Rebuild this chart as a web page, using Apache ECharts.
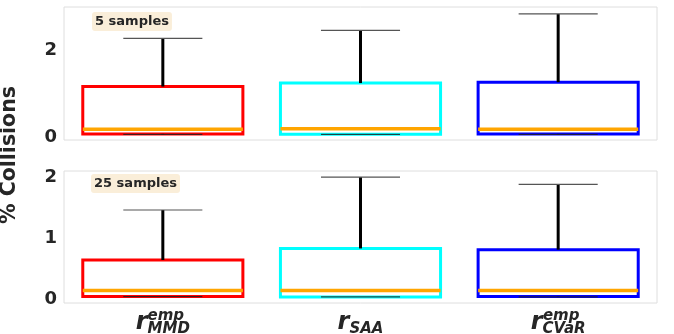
<!DOCTYPE html>
<html><head><meta charset="utf-8">
<script src="https://cdn.jsdelivr.net/npm/echarts@6/dist/echarts.min.js"></script>
<style>html,body{margin:0;padding:0;background:#fff}#c{width:674px;height:334px}</style>
</head><body><div id="c"></div>
<script>
const categories = ['MMD', 'SAA', 'CVaR'];
const subLabels = ['MMD', 'SAA', 'CVaR'];
const supLabels = ['emp', ' ', 'emp'];
const boxColors = ['#ff0000', '#00ffff', '#0000ff'];
const panelTitles = ['5 samples', '25 samples'];
const yTitle = '% Collisions';
// 5 samples panel
const min5 = [0.01, 0.01, 0.01];
const q1_5 = [0.02, 0.01, 0.02];
const med5 = [0.13, 0.14, 0.13];
const q3_5 = [1.11, 1.19, 1.21];
const max5 = [2.22, 2.40, 2.78];
// 25 samples panel
const min25 = [0.01, 0.005, 0.005];
const q1_25 = [0.01, 0.005, 0.01];
const med25 = [0.11, 0.11, 0.11];
const q3_25 = [0.61, 0.80, 0.78];
const max25 = [1.43, 1.97, 1.85];
const yTicks5 = [0, 2];
const yTicks25 = [0, 1, 2];

const TXT = '#262626';
const FONT = '"DejaVu Sans", sans-serif';

function rows(mn, q1, md, q3, mx) {
  return categories.map((c, i) => [i, mn[i], q1[i], md[i], q3[i], mx[i]]);
}

function renderBox(params, api) {
  const i = api.value(0);
  const vmin = api.value(1), q1 = api.value(2), med = api.value(3), q3 = api.value(4), vmax = api.value(5);
  const band = api.size([1, 0])[0];
  const cx = api.coord([i, q1])[0];
  const hw = band * 0.405, cw = band * 0.2;
  const y = v => api.coord([i, v])[1];
  const color = boxColors[i];
  return {
    type: 'group', children: [
      { type: 'rect', shape: { x: cx - hw, y: y(q3), width: 2 * hw, height: y(q1) - y(q3) }, style: { fill: '#fff', stroke: color, lineWidth: 3 } },
      { type: 'line', shape: { x1: cx, y1: y(q3), x2: cx, y2: y(vmax) }, style: { stroke: '#000', lineWidth: 3 } },
      { type: 'line', shape: { x1: cx, y1: y(q1), x2: cx, y2: y(vmin) }, style: { stroke: '#000', lineWidth: 3 } },
      { type: 'line', shape: { x1: cx - cw, y1: y(vmax), x2: cx + cw, y2: y(vmax) }, style: { stroke: '#555', lineWidth: 1.2 } },
      { type: 'line', shape: { x1: cx - cw, y1: y(vmin), x2: cx + cw, y2: y(vmin) }, style: { stroke: '#222', lineWidth: 1 } },
      { type: 'line', shape: { x1: cx - hw, y1: y(med), x2: cx + hw, y2: y(med) }, style: { stroke: '#ffa500', lineWidth: 3.5 } }
    ]
  };
}

const yAxisCommon = {
  type: 'value', splitLine: { show: false }, axisLine: { show: false }, axisTick: { show: false },
};
const yLabel = vals => ({
  customValues: vals, margin: 7,
  formatter: v => '{t|' + v + '}',
  rich: { t: { color: TXT, fontSize: 18, fontWeight: 'bold', fontFamily: FONT, lineHeight: 18, padding: [5, 0, 0, 0] } }
});

const chart = echarts.init(document.getElementById('c'), null, { renderer: 'canvas' });
chart.setOption({
  animation: false,
  backgroundColor: '#fff',
  grid: [
    { left: 64, top: 7, width: 593, height: 133, show: true, borderColor: '#dedede', borderWidth: 1, outerBoundsMode: 'none', containLabel: false },
    { left: 64, top: 171, width: 593, height: 132, show: true, borderColor: '#dedede', borderWidth: 1, outerBoundsMode: 'none', containLabel: false }
  ],
  xAxis: [
    { type: 'category', gridIndex: 0, data: categories, axisLine: { show: false }, axisTick: { show: false }, axisLabel: { show: false } },
    {
      type: 'category', gridIndex: 1, data: categories, axisLine: { show: false }, axisTick: { show: false },
      axisLabel: {
        margin: 5.5, color: TXT, fontFamily: FONT,
        formatter: (v, idx) => '{sp|' + supLabels[idx] + '}\n{r|r}{sb|' + subLabels[idx] + '}',
        rich: {
          sp: { fontSize: 15, fontWeight: 'bold', fontStyle: 'italic', fontFamily: FONT, color: TXT, lineHeight: 2, padding: [0, 0, 0, 6], verticalAlign: 'top' },
          r: { fontSize: 24, fontWeight: 'bold', fontStyle: 'italic', fontFamily: FONT, color: TXT, lineHeight: 2, verticalAlign: 'top' },
          sb: { fontSize: 15, fontWeight: 'bold', fontStyle: 'italic', fontFamily: FONT, color: TXT, lineHeight: 2, padding: [11.5, 0, 0, 0], verticalAlign: 'top' }
        }
      }
    }
  ],
  yAxis: [
    Object.assign({ gridIndex: 0, min: -0.12, max: 2.94, axisLabel: yLabel(yTicks5) }, yAxisCommon),
    Object.assign({ gridIndex: 1, min: -0.095, max: 2.07, axisLabel: yLabel(yTicks25) }, yAxisCommon)
  ],
  graphic: [
    { type: 'text', x: 10, y: 155, rotation: Math.PI / 2, style: { text: yTitle, fill: TXT, font: 'bold 20.5px ' + FONT, align: 'center', verticalAlign: 'middle' } },
    { type: 'text', left: 92, top: 12, style: { text: panelTitles[0], fill: TXT, font: 'bold 13px ' + FONT, backgroundColor: '#faeed9', padding: [3, 3, 3, 3], borderRadius: 3, lineHeight: 13 } },
    { type: 'text', left: 91, top: 174, style: { text: panelTitles[1], fill: TXT, font: 'bold 13px ' + FONT, backgroundColor: '#faeed9', padding: [3, 3, 3, 3], borderRadius: 3, lineHeight: 13 } }
  ],
  series: [
    { type: 'custom', xAxisIndex: 0, yAxisIndex: 0, renderItem: renderBox, data: rows(min5, q1_5, med5, q3_5, max5), encode: { x: 0, y: [1, 2, 3, 4, 5] }, clip: false },
    { type: 'custom', xAxisIndex: 1, yAxisIndex: 1, renderItem: renderBox, data: rows(min25, q1_25, med25, q3_25, max25), encode: { x: 0, y: [1, 2, 3, 4, 5] }, clip: false }
  ]
});
</script></body></html>
